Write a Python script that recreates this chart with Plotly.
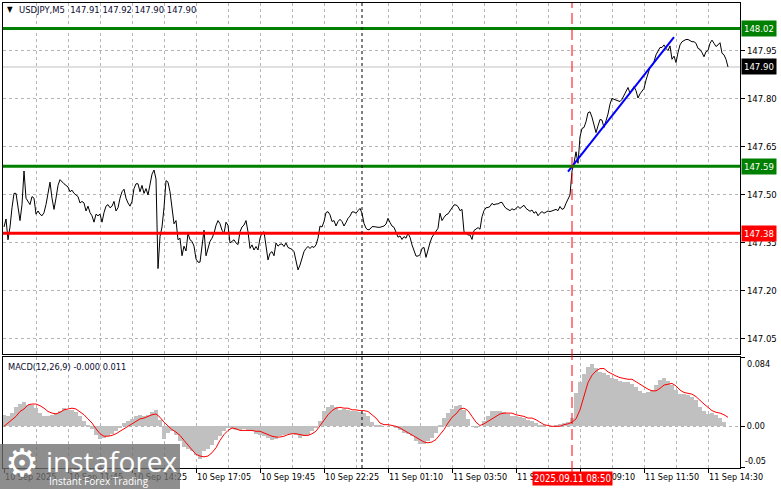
import plotly.graph_objects as go

# ---------------- data ----------------
symbol_header = "USDJPY,M5  147.91 147.92 147.90 147.90"
macd_header = "MACD(12,26,9) -0.000 0.011"

close = [
    147.400, 147.425, 147.360, 147.400, 147.460, 147.505, 147.505, 147.460, 147.420, 147.470,
    147.575, 147.490, 147.480, 147.470, 147.495, 147.490, 147.440, 147.450, 147.440, 147.435,
    147.445, 147.470, 147.505, 147.540, 147.490, 147.455, 147.490, 147.530, 147.548, 147.540,
    147.535, 147.530, 147.525, 147.510, 147.515, 147.505, 147.500, 147.495, 147.475, 147.480,
    147.475, 147.450, 147.465, 147.445, 147.435, 147.415, 147.440, 147.435, 147.440, 147.415,
    147.445, 147.465, 147.470, 147.460, 147.465, 147.480, 147.450, 147.460, 147.490, 147.510,
    147.518, 147.490, 147.475, 147.465, 147.480, 147.520, 147.535, 147.535, 147.510, 147.530,
    147.505, 147.520, 147.500, 147.540, 147.565, 147.578, 147.550, 147.270, 147.370, 147.400,
    147.460, 147.545, 147.540, 147.510, 147.455, 147.410, 147.420, 147.360, 147.365, 147.310,
    147.340, 147.325, 147.380, 147.360, 147.355, 147.340, 147.300, 147.290, 147.290, 147.350,
    147.390, 147.310, 147.335, 147.355, 147.365, 147.380, 147.405, 147.420, 147.410, 147.390,
    147.380, 147.415, 147.405, 147.350, 147.355, 147.360, 147.350, 147.345, 147.385, 147.400,
    147.406, 147.420, 147.385, 147.333, 147.344, 147.328, 147.339, 147.328, 147.365, 147.382,
    147.385, 147.339, 147.297, 147.318, 147.323, 147.310, 147.350, 147.340, 147.346, 147.347,
    147.339, 147.350, 147.336, 147.333, 147.330, 147.323, 147.297, 147.266, 147.281, 147.307,
    147.323, 147.333, 147.339, 147.333, 147.339, 147.336, 147.344, 147.365, 147.403, 147.400,
    147.417, 147.445, 147.448, 147.438, 147.417, 147.420, 147.403, 147.417, 147.424, 147.417,
    147.403, 147.414, 147.427, 147.434, 147.447, 147.447, 147.443, 147.451, 147.458, 147.443,
    147.411, 147.396, 147.391, 147.393, 147.401, 147.401, 147.399, 147.399, 147.399, 147.400,
    147.403, 147.409, 147.427, 147.414, 147.403, 147.399, 147.380, 147.368, 147.372, 147.361,
    147.370, 147.365, 147.380, 147.368, 147.344, 147.326, 147.309, 147.309, 147.313, 147.333,
    147.336, 147.305, 147.330, 147.351, 147.368, 147.378, 147.385, 147.396, 147.443, 147.420,
    147.430, 147.438, 147.441, 147.451, 147.457, 147.469, 147.469, 147.464, 147.451, 147.455,
    147.385, 147.380, 147.375, 147.375, 147.361, 147.389, 147.395, 147.398, 147.393, 147.432,
    147.451, 147.460, 147.461, 147.464, 147.474, 147.469, 147.472, 147.472, 147.476, 147.477,
    147.466, 147.458, 147.455, 147.451, 147.457, 147.453, 147.458, 147.464, 147.458, 147.464,
    147.468, 147.458, 147.453, 147.449, 147.453, 147.443, 147.448, 147.435, 147.443, 147.448,
    147.443, 147.448, 147.450, 147.448, 147.450, 147.453, 147.455, 147.451, 147.464, 147.455,
    147.458, 147.474, 147.485, 147.500, 147.575, 147.600, 147.635, 147.599, 147.682, 147.708,
    147.711, 147.729, 147.757, 147.760, 147.743, 147.719, 147.695, 147.716, 147.736, 147.734,
    147.711, 147.732, 147.753, 147.784, 147.802, 147.799, 147.797, 147.794, 147.792, 147.799,
    147.811, 147.826, 147.836, 147.818, 147.830, 147.839, 147.826, 147.803, 147.816, 147.823,
    147.833, 147.859, 147.882, 147.899, 147.903, 147.917, 147.938, 147.948, 147.961, 147.961,
    147.969, 147.958, 147.951, 147.966, 147.924, 147.934, 147.914, 147.945, 147.969, 147.979,
    147.984, 147.986, 147.986, 147.982, 147.979, 147.979, 147.974, 147.958, 147.955, 147.945,
    147.932, 147.948, 147.951, 147.974, 147.984, 147.974, 147.964, 147.969, 147.976, 147.943,
    147.938, 147.924, 147.900,
]
bars = list(range(len(close)))

# MACD main line (histogram) and signal, read every 2 bars
macd_step = 2
macd_hist = [
    0.014, 0.012, 0.016, 0.023, 0.027, 0.029, 0.026, 0.026, 0.022, 0.016,
    0.012, 0.012, 0.014, 0.016, 0.019, 0.022, 0.020, 0.020, 0.017, 0.012,
    0.007, 0.002, -0.003, -0.010, -0.015, -0.014, -0.012, -0.009, -0.006, -0.002,
    0.004, 0.007, 0.009, 0.012, 0.014, 0.012, 0.014, 0.017, 0.020, 0.008,
    -0.015, -0.008, -0.006, -0.011, -0.018, -0.025, -0.028, -0.030, -0.035, -0.040,
    -0.030, -0.028, -0.023, -0.017, -0.012, -0.006, -0.001, -0.003, -0.004, -0.005,
    -0.003, -0.005, -0.006, -0.009, -0.010, -0.012, -0.014, -0.016, -0.015, -0.012,
    -0.010, -0.009, -0.009, -0.011, -0.014, -0.012, -0.010, -0.006, -0.001, 0.007,
    0.018, 0.024, 0.026, 0.023, 0.020, 0.021, 0.020, 0.019, 0.018, 0.017,
    0.016, 0.012, 0.005, 0.002, 0.001, 0.000, 0.000, 0.000, -0.002, -0.004,
    -0.008, -0.009, -0.012, -0.018, -0.021, -0.022, -0.018, -0.014, -0.008, 0.002,
    0.010, 0.016, 0.021, 0.025, 0.026, 0.020, 0.009, 0.000, -0.001, 0.000,
    0.006, 0.013, 0.018, 0.018, 0.018, 0.017, 0.015, 0.013, 0.012, 0.011,
    0.010, 0.008, 0.006, 0.004, 0.002, 0.001, 0.000, 0.000, 0.001, 0.003,
    0.004, 0.005, 0.010, 0.040, 0.054, 0.064, 0.072, 0.076, 0.071, 0.066,
    0.065, 0.062, 0.059, 0.057, 0.055, 0.054, 0.054, 0.051, 0.048, 0.043,
    0.040, 0.042, 0.044, 0.050, 0.056, 0.058, 0.055, 0.050, 0.044, 0.039,
    0.039, 0.038, 0.036, 0.032, 0.023, 0.018, 0.015, 0.016, 0.014, 0.010,
    0.005, 0.000,
]
macd_signal = [
    0.000, 0.004, 0.008, 0.012, 0.018, 0.021, 0.026, 0.027, 0.027, 0.025,
    0.022, 0.018, 0.016, 0.015, 0.017, 0.020, 0.021, 0.022, 0.021, 0.018,
    0.014, 0.009, 0.004, -0.003, -0.009, -0.012, -0.012, -0.011, -0.009, -0.006,
    -0.003, 0.000, 0.003, 0.006, 0.009, 0.010, 0.012, 0.014, 0.015, 0.011,
    0.005, 0.000, -0.004, -0.007, -0.011, -0.017, -0.023, -0.029, -0.034, -0.036,
    -0.037, -0.036, -0.032, -0.026, -0.017, -0.010, -0.005, -0.002, -0.003, -0.005,
    -0.005, -0.005, -0.005, -0.006, -0.006, -0.008, -0.010, -0.012, -0.013, -0.013,
    -0.012, -0.010, -0.009, -0.009, -0.010, -0.011, -0.011, -0.009, -0.006, 0.001,
    0.008, 0.014, 0.019, 0.022, 0.023, 0.022, 0.022, 0.020, 0.020, 0.019,
    0.019, 0.018, 0.014, 0.010, 0.004, 0.002, 0.002, 0.001, 0.000, -0.002,
    -0.005, -0.008, -0.010, -0.013, -0.016, -0.019, -0.020, -0.019, -0.016, -0.010,
    -0.004, 0.004, 0.011, 0.015, 0.021, 0.022, 0.019, 0.012, 0.005, 0.001,
    0.003, 0.006, 0.009, 0.013, 0.015, 0.016, 0.016, 0.016, 0.014, 0.013,
    0.012, 0.010, 0.010, 0.008, 0.005, 0.002, 0.001, 0.000, 0.000, 0.000,
    0.002, 0.003, 0.005, 0.009, 0.020, 0.036, 0.053, 0.062, 0.067, 0.070,
    0.070, 0.066, 0.063, 0.061, 0.059, 0.058, 0.057, 0.057, 0.054, 0.051,
    0.047, 0.045, 0.043, 0.043, 0.046, 0.050, 0.051, 0.052, 0.049, 0.044,
    0.041, 0.040, 0.039, 0.036, 0.031, 0.027, 0.023, 0.019, 0.017, 0.016,
    0.014, 0.011,
]
macd_bars = [i * macd_step for i in range(len(macd_hist))]

# levels and objects
resistance_levels = [148.02, 147.59]
support_levels = [147.38]
last_price = 147.90
trend_bars = [282, 335]
trend_prices = [147.573, 147.993]
day_separator_bar = 179
cursor_bar = 284
cursor_label = "2025.09.11 08:50"

price_ticks = [147.05, 147.20, 147.35, 147.50, 147.65, 147.80, 147.95]
time_labels = ["10 Sep 2025", "10 Sep 11:45", "10 Sep 14:25", "10 Sep 17:05",
               "10 Sep 19:45", "10 Sep 22:25", "11 Sep 01:10", "11 Sep 03:50",
               "11 Sep 06:30", "11 Sep 09:10", "11 Sep 11:50", "11 Sep 14:30"]
label_every = 32   # bars between time labels
grid_every = 16    # bars between vertical grid lines

# ---------------- layout geometry ----------------
W, H = 781, 489
def py(p):  # pixel row -> paper y
    return (H - p) / H
def px(p):  # pixel col -> paper x
    return p / W

FONT = "Tahoma, 'DejaVu Sans Condensed', 'Liberation Sans', sans-serif"
GRID = "#b4b4b4"
FS = 9

fig = go.Figure()

fig.add_trace(go.Scatter(x=bars, y=close, mode="lines",
                         line=dict(color="black", width=1),
                         xaxis="x", yaxis="y", hoverinfo="skip"))
fig.add_trace(go.Scatter(x=trend_bars, y=trend_prices, mode="lines",
                         line=dict(color="#0000ff", width=2),
                         xaxis="x", yaxis="y", hoverinfo="skip"))
fig.add_trace(go.Bar(x=macd_bars, y=macd_hist, width=macd_step,
                     marker=dict(color="#c0c0c0", line=dict(width=0)),
                     xaxis="x2", yaxis="y2", hoverinfo="skip"))
fig.add_trace(go.Scatter(x=macd_bars, y=macd_signal, mode="lines",
                         line=dict(color="#ff0000", width=1),
                         xaxis="x2", yaxis="y2", hoverinfo="skip"))

xrange = [-0.5, 368.0]
tick_bars = [i * label_every for i in range(len(time_labels))]

shapes = []
for lv in resistance_levels:
    shapes.append(dict(type="line", xref="x domain", yref="y", x0=0, x1=1, y0=lv, y1=lv,
                       line=dict(color="#008000", width=3)))
for lv in support_levels:
    shapes.append(dict(type="line", xref="x domain", yref="y", x0=0, x1=1, y0=lv, y1=lv,
                       line=dict(color="#ff0000", width=3)))
shapes.append(dict(type="line", xref="x domain", yref="y", x0=0, x1=1, y0=last_price, y1=last_price,
                   line=dict(color="#c0c0c0", width=1), layer="below"))
shapes.append(dict(type="line", xref="x", yref="paper", x0=day_separator_bar, x1=day_separator_bar,
                   y0=py(468), y1=py(3), line=dict(color="black", width=1, dash="3px,3px")))
shapes.append(dict(type="line", xref="x", yref="paper", x0=cursor_bar, x1=cursor_bar,
                   y0=py(472), y1=py(3), line=dict(color="#ff0000", width=1, dash="11px,5px")))
# watermark box
shapes.append(dict(type="rect", xref="paper", yref="paper", x0=0, x1=px(180), y0=0, y1=py(444),
                   fillcolor="rgba(110,110,110,0.78)", line=dict(width=0)))

annotations = []
annotations.append(dict(xref="paper", yref="paper", x=px(5), y=py(9), xanchor="left", yanchor="middle",
                        text="▼", showarrow=False, font=dict(family=FONT, size=8, color="black")))
annotations.append(dict(xref="paper", yref="paper", x=px(17), y=py(9), xanchor="left", yanchor="middle",
                        text=symbol_header, showarrow=False, font=dict(family=FONT, size=9.4, color="#0a0a30")))
annotations.append(dict(xref="paper", yref="paper", x=px(6), y=py(366), xanchor="left", yanchor="middle",
                        text=macd_header, showarrow=False, font=dict(family=FONT, size=9.2, color="#0a0a30")))
# MACD scale end labels
annotations.append(dict(xref="paper", yref="paper", x=px(745), y=py(364), xanchor="left", yanchor="middle",
                        text="0.084", showarrow=False, font=dict(family=FONT, size=FS, color="black")))
annotations.append(dict(xref="paper", yref="paper", x=px(743), y=py(461), xanchor="left", yanchor="middle",
                        text="-0.05", showarrow=False, font=dict(family=FONT, size=FS, color="black")))
# price level boxes
for lv, col in [(resistance_levels[0], "#008000"), (resistance_levels[1], "#008000"),
                (support_levels[0], "#ff0000"), (last_price, "#000000")]:
    annotations.append(dict(xref="paper", yref="y", x=px(741), y=lv, xanchor="left", yanchor="middle",
                            text=f"{lv:.2f}", showarrow=False, bgcolor=col, borderpad=2,
                            font=dict(family=FONT, size=FS + 0.5, color="white")))
# cursor time label
annotations.append(dict(xref="x", yref="paper", x=cursor_bar, y=py(478), xanchor="center", yanchor="middle",
                        text=cursor_label, showarrow=False, bgcolor="#ff0000", borderpad=1,
                        font=dict(family=FONT, size=9.6, color="white")))
# watermark texts
annotations.append(dict(xref="paper", yref="paper", x=px(3), y=py(463), xanchor="left", yanchor="middle",
                        text="⚙", showarrow=False, font=dict(family="DejaVu Sans", size=38, color="white")))
annotations.append(dict(xref="paper", yref="paper", x=px(44), y=py(461), xanchor="left", yanchor="middle",
                        text="instaforex", showarrow=False, font=dict(family="Open Sans", size=28, color="white")))
annotations.append(dict(xref="paper", yref="paper", x=px(47), y=py(481), xanchor="left", yanchor="middle",
                        text="Instant Forex Trading", showarrow=False, font=dict(family="Open Sans", size=10, color="white")))

axis_common = dict(showline=True, mirror=True, linecolor="black", linewidth=1, zeroline=False)

fig.update_layout(
    width=W, height=H,
    margin=dict(l=0, r=0, t=0, b=0, autoexpand=False),
    paper_bgcolor="white", plot_bgcolor="white",
    showlegend=False, bargap=0,
    font=dict(family=FONT, size=FS, color="black"),
    xaxis=dict(domain=[px(3), px(740)], range=xrange, anchor="y",
               showticklabels=False, ticks="",
               tickvals=tick_bars, showgrid=True, gridcolor=GRID, griddash="3px,3px",
               minor=dict(dtick=grid_every, tick0=0, showgrid=True, gridcolor=GRID, griddash="3px,3px"),
               **axis_common),
    yaxis=dict(domain=[py(354), py(3)], range=[147.003, 148.10], anchor="x", side="right",
               tickvals=price_ticks, ticktext=[f"{v:.2f}" for v in price_ticks],
               ticks="outside", ticklen=4, tickcolor="black",
               showgrid=True, gridcolor=GRID, griddash="3px,3px",
               tickfont=dict(family=FONT, size=FS + 0.5), automargin=False, **axis_common),
    xaxis2=dict(domain=[px(3), px(740)], range=xrange, anchor="y2", matches="x",
                tickvals=tick_bars, ticktext=time_labels, ticks="outside", ticklen=4, tickcolor="black",
                ticklabelposition="outside right", tickangle=0,
                showgrid=True, gridcolor=GRID, griddash="3px,3px",
                minor=dict(dtick=grid_every, tick0=0, showgrid=True, gridcolor=GRID, griddash="3px,3px"),
                tickfont=dict(family=FONT, size=FS), automargin=False, **axis_common),
    yaxis2=dict(domain=[py(468), py(357)], range=[-0.0505, 0.084], anchor="x2", side="right",
                tickvals=[-0.05, 0.0, 0.084], ticktext=["", "0.00", ""],
                ticks="outside", ticklen=4, tickcolor="black",
                showgrid=True, gridcolor=GRID, griddash="3px,3px",
                tickfont=dict(family=FONT, size=FS), automargin=False, **axis_common),
    shapes=shapes,
    annotations=annotations,
)

fig.write_html(
    "out.html",
    config={"displayModeBar": False},
    post_script="document.body.style.margin='0';document.body.style.padding='0';"
                "document.documentElement.style.overflow='hidden';",
)
